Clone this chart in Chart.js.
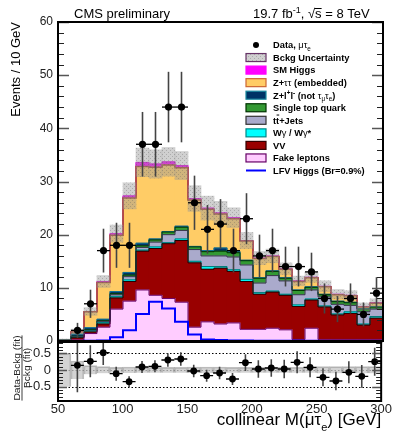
<!DOCTYPE html>
<html>
<head>
<meta charset="utf-8">
<script src="https://cdn.jsdelivr.net/npm/chart.js@4.4.0/dist/chart.umd.min.js"></script>
<style>
  html, body { margin: 0; padding: 0; background: #fff; }
  #wrap { position: relative; width: 393px; height: 434px; }
  #wrap canvas { position: absolute; left: 0; top: 0; }
</style>
</head>
<body>
<div id="wrap">
  <canvas id="mainChart" width="393" height="434"></canvas>
  <canvas id="ratioChart" width="393" height="434"></canvas>
</div>
<script>
const FONT = "'Liberation Sans', Arial, Helvetica, sans-serif";

// 10 GeV bins of collinear mass, lower edges
const binLow = [50, 60, 70, 80, 90, 100, 110, 120, 130, 140, 150, 160, 170, 180, 190, 200, 210, 220, 230, 240, 250, 260, 270, 280, 290];
const binWidth = 10;

// observed events and their errors
const dataCounts = [null, 2, 7, 17, 18, 18, 37, 37, 44, 44, 26, 21, 22, 17, 23, 16, 17, 14, 14, 13, 8, 6, 8, 5, 9];
const dataErr = [null, 1.41, 2.65, 4.12, 4.24, 4.24, 6.08, 6.08, 6.63, 6.63, 5.10, 4.58, 4.69, 4.12, 4.80, 4.00, 4.12, 3.74, 3.74, 3.61, 2.83, 2.45, 2.83, 2.24, 3.00];

// background processes, bottom of the stack first
const fakeLeptons = [0.05, 0.2, 1.4, 2.6, 6.0, 7.5, 9.6, 8.6, 8.0, 7.3, 2.6, 3.6, 3.2, 3.4, 2.2, 2.2, 2.4, 2.1, 0.3, 2.4, 0.3, 0.3, 0.3, 0.3, 0.3];
const dibosonVV = [0.05, 0.4, 0.3, 0.6, 2.1, 3.7, 7.3, 8.8, 10.3, 11.6, 12.1, 9.9, 10.5, 9.7, 9.0, 6.6, 6.8, 6.5, 6.2, 5.3, 6.1, 4.6, 4.9, 2.7, 4.0];
const wGamma = [0.01, 0.1, 0.2, 0.3, 0.3, 0.3, 0.2, 0.3, 0.2, 0.3, 0.3, 0.5, 0.3, 0.3, 0.4, 0.3, 0.2, 0.2, 0.3, 0.2, 0.2, 0.2, 0.3, 0.2, 0.3];
const ttJets = [0.02, 0.1, 0.1, 0.2, 0.3, 0.6, 0.5, 0.9, 1.5, 1.6, 2.2, 2.0, 2.0, 2.4, 2.7, 1.8, 2.9, 2.5, 1.9, 1.7, 1.7, 1.8, 1.2, 2.3, 1.4];
const singleTop = [0.02, 0.1, 0.1, 0.1, 0.2, 0.3, 0.3, 0.4, 0.5, 0.6, 0.5, 0.8, 0.9, 0.8, 0.8, 0.9, 0.8, 0.5, 0.8, 0.5, 0.4, 0.5, 0.5, 0.5, 0.4];
const zLL = [0.05, 0.4, 0.4, 0.3, 0.4, 0.5, 0.5, 0.2, 0.1, 0.2, 0.1, 0.2, 0.6, 0.2, 0.1, 0.1, 0.1, 0.1, 0.1, 0.1, 0.1, 0.1, 0.1, 0.1, 0.1];
const zTauTau = [0.05, 0.45, 3.0, 6.9, 10.6, 14.0, 14.4, 13.5, 12.5, 11.0, 8.7, 7.8, 6.4, 6.2, 3.6, 3.6, 2.7, 1.6, 1.6, 1.7, 1.4, 1.2, 1.2, 0.3, 0.6];
const smHiggs = [0, 0, 0.05, 0.2, 0.3, 0.4, 0.8, 0.6, 0.6, 0.4, 0.3, 0.2, 0.2, 0.2, 0.1, 0.1, 0.1, 0.1, 0.1, 0.1, 0.1, 0.1, 0.1, 0.1, 0.1];

// signal, not stacked
const lfvHiggs = [0, 0, 0.05, 0.1, 0.7, 2.0, 5.1, 7.4, 6.1, 3.6, 1.2, 0.3, 0.2, 0.1, 0.1, 0.05, 0.05, 0.05, 0.05, 0.05, 0.02, 0.02, 0.02, 0.02, 0.02];

// relative background uncertainty per bin
const bkgUncRel = [0.5, 0.27, 0.13, 0.1, 0.08, 0.09, 0.08, 0.08, 0.08, 0.08, 0.09, 0.09, 0.09, 0.08, 0.08, 0.08, 0.08, 0.08, 0.08, 0.08, 0.1, 0.1, 0.1, 0.1, 0.1];

// (data - bckg) / bckg
const ratioVals = [null, 0.14, 0.26, 0.52, -0.11, -0.35, 0.09, 0.11, 0.30, 0.33, -0.03, -0.17, -0.09, -0.27, 0.22, 0.03, 0.06, 0.03, 0.23, 0.08, -0.22, -0.33, -0.07, -0.19, 0.25];
const ratioErr = [null, 0.81, 0.48, 0.37, 0.21, 0.16, 0.18, 0.18, 0.20, 0.20, 0.19, 0.18, 0.19, 0.18, 0.25, 0.26, 0.26, 0.28, 0.33, 0.30, 0.27, 0.28, 0.33, 0.34, 0.42];

const yTicksMain = [0, 10, 20, 30, 40, 50, 60];
const yTicksRatio = [-0.5, 0, 0.5];
const xTicks = [50, 100, 150, 200, 250, 300];

const bkgStack = [
    { label: 'Fake leptons', values: fakeLeptons, fill: '#ffccff', line: '#660066', edge: '#660066' },
    { label: 'VV', values: dibosonVV, fill: '#990000', line: '#220000', edge: '#330000' },
    { label: 'Wγ / Wγ*', values: wGamma, fill: '#00ffff', line: '#007777', edge: '#008888' },
    { label: 'tt+Jets', values: ttJets, fill: '#aaaacc', line: '#333344', edge: '#333333' },
    { label: 'Single top quark', values: singleTop, fill: '#339933', line: '#003300', edge: '#003300' },
    { label: 'Z+ll', values: zLL, fill: '#003366', line: '#117799', edge: '#1a8aa0' },
    { label: 'Z+tautau', values: zTauTau, fill: '#ffcc66', line: '#a0402a', edge: '#cc6633' },
    { label: 'SM Higgs', values: smHiggs, fill: '#ff00ff', line: '#dd00dd', edge: '#ff00ff' }
];

Chart.defaults.font.family = FONT;
Chart.defaults.color = '#222';

// running sums for the outlines and the total background
const cumulative = [];
let running = binLow.map(() => 0);
bkgStack.forEach(c => {
    running = running.map((v, i) => v + c.values[i]);
    cumulative.push(running);
});
const totalBkg = running;

function centers() {
    return binLow.map(x => x + binWidth / 2);
}
function stepPoints(values) {
    let pts = binLow.map((x, i) => ({ x: x, y: values[i] }));
    pts.push({ x: binLow[binLow.length - 1] + binWidth, y: values[values.length - 1] });
    return pts;
}

// grey stippled fill for the uncertainty band
function makeHatch(ctx) {
    let c = document.createElement('canvas');
    c.width = 4; c.height = 4;
    let g = c.getContext('2d');
    g.fillStyle = 'rgba(150,150,150,0.45)';
    g.fillRect(0, 0, 4, 4);
    g.fillStyle = 'rgba(90,90,90,0.3)';
    g.fillRect(0, 0, 1, 1);
    g.fillRect(2, 2, 1, 1);
    return ctx.createPattern(c, 'repeat');
}

function drawInnerTicks(ctx, a, scale, majorStep, minorStep, majorLen, minorLen) {
    const first = Math.ceil(scale.min / minorStep - 1e-6);
    ctx.save();
    for (let k = first; k * minorStep <= scale.max + 1e-9; k++) {
        let v = k * minorStep;
        let isMajor = Math.abs(v / majorStep - Math.round(v / majorStep)) < 1e-6;
        let len = isMajor ? majorLen : minorLen;
        let py = Math.round(scale.getPixelForValue(v)) + 0.5;
        ctx.strokeStyle = isMajor ? '#555' : '#222';
        ctx.lineWidth = isMajor ? 1.5 : 1;
        ctx.beginPath();
        ctx.moveTo(a.left, py); ctx.lineTo(a.left + len, py);
        ctx.moveTo(a.right, py); ctx.lineTo(a.right - len, py);
        ctx.stroke();
    }
    ctx.restore();
}

// text with bold / greek / sub / sup pieces
function drawParts(ctx, x, y, parts, size) {
    let cx = x;
    parts.forEach(([text, style]) => {
        let dy = 0;
        if (style === 'b' || style === 'bbar') ctx.font = `bold ${size}px ${FONT}`;
        else if (style === 'n') ctx.font = `${size}px ${FONT}`;
        else if (style === 'sub') { ctx.font = `${size * 0.68}px ${FONT}`; dy = size * 0.32; }
        else if (style === 'sup') { ctx.font = `bold ${size * 0.68}px ${FONT}`; dy = -size * 0.4; }
        ctx.fillText(text, cx, y + dy);
        let w = ctx.measureText(text).width;
        if (style === 'bbar') {
            ctx.save();
            ctx.strokeStyle = '#000'; ctx.lineWidth = 1;
            ctx.beginPath();
            ctx.moveTo(cx + 0.5, y - size * 0.92); ctx.lineTo(cx + w, y - size * 0.92);
            ctx.stroke();
            ctx.restore();
        }
        cx += w;
    });
    return cx;
}

const errorBarPlugin = {
    id: 'errorBars',
    beforeDatasetDraw(chart, args) {
        let ds = chart.data.datasets[args.index];
        if (!ds.errY) return;
        let meta = chart.getDatasetMeta(args.index);
        let xs = chart.scales[meta.xAxisID], ys = chart.scales[meta.yAxisID];
        let a = chart.chartArea;
        let ctx = chart.ctx;
        ctx.save();
        ctx.beginPath();
        ctx.rect(a.left, a.top, a.right - a.left, a.bottom - a.top);
        ctx.clip();
        ds.data.forEach((p, i) => {
            let px = xs.getPixelForValue(p.x);
            let py = ys.getPixelForValue(p.y);
            ctx.strokeStyle = '#444';
            ctx.lineWidth = 1.6;
            ctx.beginPath();
            ctx.moveTo(px, ys.getPixelForValue(p.y + ds.errY[i]));
            ctx.lineTo(px, ys.getPixelForValue(p.y - ds.errY[i]));
            ctx.stroke();
            ctx.strokeStyle = '#000';
            ctx.lineWidth = 1.3;
            ctx.beginPath();
            ctx.moveTo(xs.getPixelForValue(p.x - binWidth / 2), py);
            ctx.lineTo(xs.getPixelForValue(p.x + binWidth / 2), py);
            ctx.stroke();
        });
        ctx.restore();
    }
};

const mainCanvas = document.getElementById('mainChart');
const hatch = makeHatch(mainCanvas.getContext('2d'));

const legendRows = [
    { kind: 'dot', parts: [['Data, ', 'b'], ['μτ', 'n'], ['e', 'sub']] },
    { kind: 'box', fill: hatch, edge: '#663366', parts: [['Bckg Uncertainty', 'b']] },
    { kind: 'box', fill: bkgStack[7].fill, edge: bkgStack[7].edge, parts: [['SM Higgs', 'b']] },
    { kind: 'box', fill: bkgStack[6].fill, edge: bkgStack[6].edge, parts: [['Z+', 'b'], ['ττ', 'n'], [' (embedded)', 'b']] },
    { kind: 'box', fill: bkgStack[5].fill, edge: bkgStack[5].edge, parts: [['Z+l', 'b'], ['+', 'sup'], ['l', 'b'], ['-', 'sup'], [' (not ', 'b'], ['τ', 'n'], ['μ', 'sub'], ['τ', 'n'], ['e', 'sub'], [')', 'b']] },
    { kind: 'box', fill: bkgStack[4].fill, edge: bkgStack[4].edge, parts: [['Single top quark', 'b']] },
    { kind: 'box', fill: bkgStack[3].fill, edge: bkgStack[3].edge, parts: [['t', 'b'], ['t', 'bbar'], ['+Jets', 'b']] },
    { kind: 'box', fill: bkgStack[2].fill, edge: bkgStack[2].edge, parts: [['W', 'b'], ['γ', 'n'], [' / W', 'b'], ['γ', 'n'], ['*', 'b']] },
    { kind: 'box', fill: bkgStack[1].fill, edge: bkgStack[1].edge, parts: [['VV', 'b']] },
    { kind: 'box', fill: bkgStack[0].fill, edge: bkgStack[0].edge, parts: [['Fake leptons', 'b']] },
    { kind: 'line', edge: '#0000ff', parts: [['LFV Higgs (Br=0.9%)', 'b']] }
];

function drawLegend(ctx) {
    legendRows.forEach((row, i) => {
        let cy = 45 + i * 12.55;
        let bx = 246, bw = 20, bh = 8;
        ctx.save();
        if (row.kind === 'dot') {
            ctx.fillStyle = '#000';
            ctx.beginPath();
            ctx.arc(bx + 10, cy, 3, 0, Math.PI * 2);
            ctx.fill();
        } else if (row.kind === 'line') {
            ctx.strokeStyle = row.edge;
            ctx.lineWidth = 2;
            ctx.beginPath();
            ctx.moveTo(bx, cy); ctx.lineTo(bx + bw, cy);
            ctx.stroke();
        } else {
            ctx.fillStyle = '#fff';
            ctx.fillRect(bx, cy - bh / 2, bw, bh);
            ctx.fillStyle = row.fill;
            ctx.fillRect(bx, cy - bh / 2, bw, bh);
            ctx.strokeStyle = row.edge;
            ctx.lineWidth = 1.2;
            ctx.strokeRect(bx, cy - bh / 2, bw, bh);
        }
        ctx.fillStyle = '#000';
        ctx.textAlign = 'left';
        ctx.textBaseline = 'alphabetic';
        drawParts(ctx, 273, cy + 3.3, row.parts, 9.3);
        ctx.restore();
    });
}

const mainDecor = {
    id: 'mainDecor',
    afterDraw(chart) {
        let ctx = chart.ctx, a = chart.chartArea;
        drawInnerTicks(ctx, a, chart.scales.y, 10, 2, 11, 6);
        ctx.save();
        ctx.lineWidth = 2;
        ctx.strokeStyle = '#000';
        ctx.strokeRect(a.left, a.top, a.right - a.left, a.bottom - a.top);

        ctx.fillStyle = '#000';
        ctx.textAlign = 'left';
        ctx.textBaseline = 'alphabetic';
        ctx.font = `13px ${FONT}`;
        ctx.fillText('CMS preliminary', 74, 18);

        // luminosity and energy
        let x = 253;
        ctx.fillText('19.7 fb', x, 18);
        x += ctx.measureText('19.7 fb').width;
        ctx.font = `9px ${FONT}`;
        ctx.fillText('-1', x, 12.5);
        x += ctx.measureText('-1').width;
        ctx.font = `13px ${FONT}`;
        ctx.fillText(', ', x, 18);
        x += ctx.measureText(', ').width;
        ctx.fillText('√', x, 18);
        x += ctx.measureText('√').width;
        let sw = ctx.measureText('s').width;
        ctx.fillText('s', x, 18);
        ctx.lineWidth = 1;
        ctx.beginPath();
        ctx.moveTo(x - 0.5, 8.5); ctx.lineTo(x + sw, 8.5);
        ctx.stroke();
        x += sw;
        ctx.fillText(' = 8 TeV', x, 18);

        // y axis title
        ctx.save();
        ctx.translate(20, 22);
        ctx.rotate(-Math.PI / 2);
        ctx.textAlign = 'right';
        ctx.font = `13px ${FONT}`;
        ctx.fillText('Events / 10 GeV', 0, 0);
        ctx.restore();

        drawLegend(ctx);
        ctx.restore();
    }
};

let mainDatasets = [];
bkgStack.forEach(c => {
    mainDatasets.push({
        type: 'bar',
        label: c.label,
        data: centers().map((x, i) => ({ x: x, y: c.values[i] })),
        backgroundColor: c.fill,
        borderWidth: 0,
        barPercentage: 1,
        categoryPercentage: 1,
        yAxisID: 'y',
        order: 5
    });
});
cumulative.forEach((cum, k) => {
    mainDatasets.push({
        type: 'line',
        label: bkgStack[k].label + ' outline',
        data: stepPoints(cum),
        stepped: true,
        borderColor: bkgStack[k].line,
        borderWidth: k === 6 ? 1.5 : 1,
        pointRadius: 0,
        fill: false,
        yAxisID: 'yo',
        order: 4
    });
});
mainDatasets.push({
    type: 'bar',
    label: 'Bckg Uncertainty',
    data: centers().map((x, i) => ({ x: x, y: [totalBkg[i] * (1 - bkgUncRel[i]), totalBkg[i] * (1 + bkgUncRel[i])] })),
    backgroundColor: hatch,
    borderWidth: 0,
    barPercentage: 1,
    categoryPercentage: 1,
    yAxisID: 'yo',
    order: 3
});
mainDatasets.push({
    type: 'line',
    label: 'LFV Higgs (Br=0.9%)',
    data: stepPoints(lfvHiggs),
    stepped: true,
    borderColor: '#0000ff',
    borderWidth: 2,
    pointRadius: 0,
    fill: false,
    yAxisID: 'yo',
    order: 2
});
let dataIdx = binLow.map((x, i) => i).filter(i => dataCounts[i] !== null);
mainDatasets.push({
    type: 'scatter',
    label: 'Data',
    data: dataIdx.map(i => ({ x: binLow[i] + binWidth / 2, y: dataCounts[i] })),
    errY: dataIdx.map(i => dataErr[i]),
    backgroundColor: '#000',
    borderWidth: 0,
    pointRadius: 3.6,
    yAxisID: 'yo',
    order: 0
});

new Chart(mainCanvas, {
    type: 'bar',
    data: { datasets: mainDatasets },
    options: {
        responsive: false,
        animation: false,
        devicePixelRatio: 1,
        events: [],
        layout: { padding: { top: 22, right: 10, bottom: 93, left: 0 } },
        plugins: { legend: { display: false }, tooltip: { enabled: false } },
        scales: {
            x: { type: 'linear', min: 50, max: 300, offset: false, stacked: true, display: false },
            y: {
                type: 'linear', min: 0, max: 60, stacked: true,
                grid: { display: false, drawTicks: false },
                border: { display: false },
                afterBuildTicks: s => { s.ticks = yTicksMain.map(v => ({ value: v })); },
                afterFit: s => { s.width = 58; },
                ticks: { font: { size: 12 }, color: '#222', padding: 5 }
            },
            yo: { type: 'linear', min: 0, max: 60, display: false }
        }
    },
    plugins: [errorBarPlugin, mainDecor]
});

// ratio panel
const ratioDecor = {
    id: 'ratioDecor',
    beforeDatasetsDraw(chart) {
        let ctx = chart.ctx, a = chart.chartArea, ys = chart.scales.y;
        ctx.save();
        ctx.lineWidth = 1;
        ctx.setLineDash([1.5, 2]);
        [0.5, -0.5, 0].forEach(v => {
            let py = Math.round(ys.getPixelForValue(v)) + 0.5;
            ctx.strokeStyle = v === 0 ? '#999' : '#000';
            ctx.beginPath();
            ctx.moveTo(a.left, py); ctx.lineTo(a.right, py);
            ctx.stroke();
        });
        ctx.restore();
    },
    afterDraw(chart) {
        let ctx = chart.ctx, a = chart.chartArea;
        drawInnerTicks(ctx, a, chart.scales.y, 0.5, 0.1, 9, 5);
        ctx.save();
        ctx.lineWidth = 2;
        ctx.strokeStyle = '#000';
        ctx.strokeRect(a.left, a.top, a.right - a.left, a.bottom - a.top);

        // y title as a fraction
        ctx.fillStyle = '#222';
        ctx.strokeStyle = '#222';
        ctx.translate(0, 368);
        ctx.rotate(-Math.PI / 2);
        ctx.scale(1.2, 1);
        ctx.font = `8.5px ${FONT}`;
        ctx.textAlign = 'center';
        ctx.fillText('Data-Bckg (fit)', 0, 20);
        let w = ctx.measureText('Data-Bckg (fit)').width;
        ctx.lineWidth = 0.8;
        ctx.beginPath();
        ctx.moveTo(-w / 2, 22); ctx.lineTo(w / 2, 22);
        ctx.stroke();
        ctx.fillText('Bckg (fit)', 0, 29.5);
        ctx.restore();

        // x title
        ctx.save();
        ctx.fillStyle = '#000';
        ctx.textAlign = 'left';
        ctx.font = `17px ${FONT}`;
        let p1 = 'collinear M(μτ', p3 = ') [GeV]';
        let w1 = ctx.measureText(p1).width, w3 = ctx.measureText(p3).width;
        ctx.font = `11px ${FONT}`;
        let w2 = ctx.measureText('e').width;
        let x0 = a.right - (w1 + w2 + w3);
        ctx.font = `17px ${FONT}`;
        ctx.fillText(p1, x0, 425);
        ctx.fillText(p3, x0 + w1 + w2, 425);
        ctx.font = `11px ${FONT}`;
        ctx.fillText('e', x0 + w1, 430.5);
        ctx.restore();
    }
};

let ratioIdx = binLow.map((x, i) => i).filter(i => ratioVals[i] !== null);

new Chart(document.getElementById('ratioChart'), {
    type: 'bar',
    data: {
        datasets: [
            {
                type: 'scatter',
                label: 'Data',
                data: ratioIdx.map(i => ({ x: binLow[i] + binWidth / 2, y: ratioVals[i] })),
                errY: ratioIdx.map(i => ratioErr[i]),
                backgroundColor: '#000',
                borderWidth: 0,
                pointRadius: 3.4,
                order: 0
            },
            {
                type: 'bar',
                label: 'Bckg Uncertainty',
                data: centers().map((x, i) => ({ x: x, y: [-bkgUncRel[i], bkgUncRel[i]] })),
                backgroundColor: 'rgba(150,150,150,0.42)',
                borderColor: 'rgba(130,130,130,0.5)',
                borderWidth: 1,
                barPercentage: 1,
                categoryPercentage: 1,
                order: 1
            }
        ]
    },
    options: {
        responsive: false,
        animation: false,
        devicePixelRatio: 1,
        events: [],
        layout: { padding: { top: 342, right: 10, bottom: 0, left: 0 } },
        plugins: { legend: { display: false }, tooltip: { enabled: false } },
        scales: {
            x: {
                type: 'linear', min: 50, max: 300, offset: false,
                grid: { display: false, drawTicks: false },
                border: { display: false },
                afterBuildTicks: s => { s.ticks = xTicks.map(v => ({ value: v })); },
                afterFit: s => { s.height = 33; },
                ticks: { font: { size: 13 }, color: '#222', padding: 1, maxRotation: 0, autoSkip: false }
            },
            y: {
                type: 'linear', min: -0.93, max: 0.84,
                grid: { display: false, drawTicks: false },
                border: { display: false },
                afterBuildTicks: s => { s.ticks = yTicksRatio.map(v => ({ value: v })); },
                afterFit: s => { s.width = 58; },
                ticks: { font: { size: 13 }, color: '#222', padding: 7, callback: v => String(v) }
            }
        }
    },
    plugins: [errorBarPlugin, ratioDecor]
});
</script>
</body>
</html>
